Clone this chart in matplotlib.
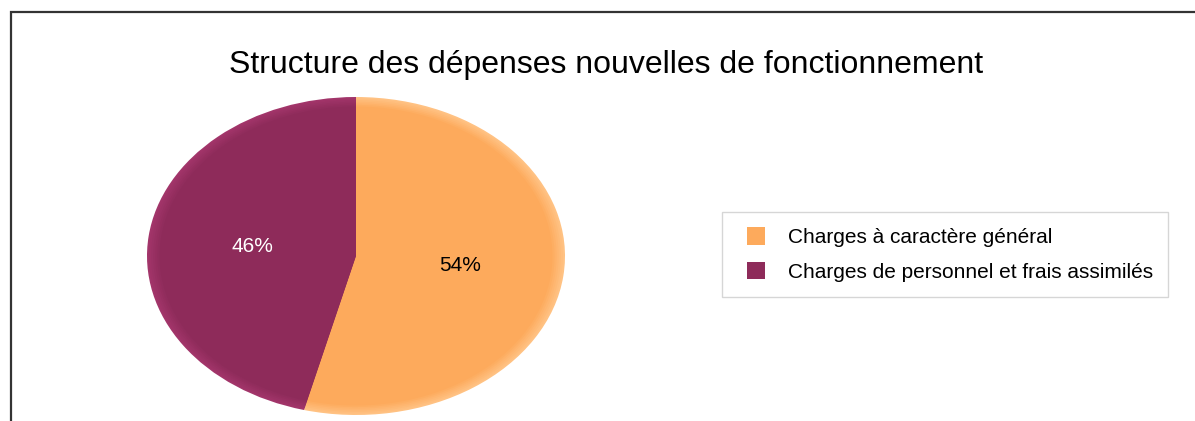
import matplotlib.pyplot as plt
import numpy as np
from matplotlib.patches import Rectangle
from matplotlib.colors import to_rgb
from matplotlib.legend_handler import HandlerPatch

labels = ["Charges à caractère général", "Charges de personnel et frais assimilés"]
values = [54, 46]
colors = ["#FDAA5C", "#8E2B5A"]
edge_colors = ["#FFC283", "#A2356A"]
title = "Structure des dépenses nouvelles de fonctionnement"

plt.rcParams['font.family'] = ['Liberation Sans', 'DejaVu Sans']

fig = plt.figure(figsize=(11.95, 4.21), dpi=100)
fig.patch.set_facecolor("white")

# cadre (haut + gauche visibles seulement)
fig.add_artist(Rectangle((11 / 1195, -0.1), 1.2, 1 - 11.5 / 421 + 0.1,
                         transform=fig.transFigure, fill=False,
                         edgecolor="#333333", linewidth=1.6))

fig.text(606 / 1195, 1 - 65 / 421, title, ha="center", va="center",
         fontsize=23, color="black")

ax = fig.add_axes([147 / 1195, 1 - 415 / 421, 418 / 1195, 318 / 421])

# bord clair dégradé (effet de relief)
steps = 6
for i in range(steps):
    t = i / steps
    r = 1 - 0.06 * t
    cols = [tuple((1 - t) * np.array(to_rgb(e)) + t * np.array(to_rgb(c)))
            for e, c in zip(edge_colors, colors)]
    ax.pie(values, colors=cols, startangle=90, counterclock=False,
           radius=r, wedgeprops=dict(linewidth=0))

wedges, texts, autotexts = ax.pie(values, colors=colors, startangle=90,
                                  counterclock=False, autopct="%d%%",
                                  pctdistance=0.5 / 0.94, radius=0.94,
                                  wedgeprops=dict(linewidth=0),
                                  textprops=dict(fontsize=15))
autotexts[0].set_color("black")
autotexts[1].set_color("white")
ax.set_aspect("auto")
ax.set_xlim(-1, 1)
ax.set_ylim(-1, 1)
ax.axis("off")


def square_handle(legend, orig_handle, xdescent, ydescent, width, height, fontsize):
    s = height
    return Rectangle((-xdescent + width - s, -ydescent), s, s)


leg = fig.legend(wedges, labels, loc="upper left",
                 bbox_to_anchor=(722 / 1195, 1 - 212 / 421),
                 fontsize=15, frameon=True, fancybox=False,
                 edgecolor="#CCCCCC", handlelength=1.35, handleheight=0.95,
                 handletextpad=1.1, labelspacing=0.69, borderpad=0.72,
                 borderaxespad=0,
                 handler_map={w: HandlerPatch(patch_func=square_handle) for w in wedges})
leg.get_frame().set_linewidth(1.0)

fig.savefig("out.png", dpi=100)
